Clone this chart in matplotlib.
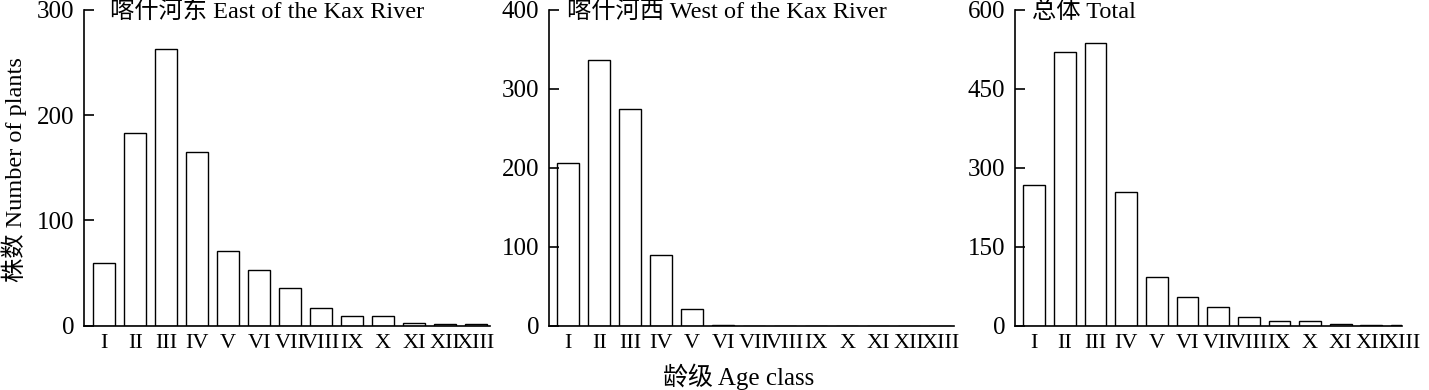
import matplotlib
matplotlib.use('Agg')
import matplotlib.pyplot as plt

plt.rcParams['font.family'] = ['Liberation Serif', 'Noto Sans CJK SC']

age_classes = ['I', 'II', 'III', 'IV', 'V', 'VI', 'VII', 'VIII', 'IX', 'X', 'XI', 'XII', 'XIII']
east = [60, 183, 263, 165, 71, 53, 36, 17, 9, 9, 3, 2, 2]
west = [206, 337, 275, 90, 21, 1, 0, 0, 0, 0, 0, 0, 0]
total = [267, 520, 538, 255, 92, 54, 36, 17, 9, 9, 3, 2, 1]

titles = ['喀什河东 East of the Kax River', '喀什河西 West of the Kax River', '总体 Total']
yticks_list = [[0, 100, 200, 300], [0, 100, 200, 300, 400], [0, 150, 300, 450, 600]]
series = [east, west, total]

W, H = 1429, 390
fig = plt.figure(figsize=(W / 100, H / 100), dpi=100)

# pixel boxes for each panel: left, right, xlim
boxes = [(84, 490, (-0.65, 12.45)), (549, 954, (-0.62, 12.44)), (1015, 1402, (-0.63, 11.85))]
top_px, bot_px = 10, 325.7

for i, (x0, x1, xl) in enumerate(boxes):
    ax = fig.add_axes([x0 / W, 1 - bot_px / H, (x1 - x0) / W, (bot_px - top_px) / H])
    ax.bar(range(len(age_classes)), series[i], width=0.71, color='white',
           edgecolor='black', linewidth=1.0)
    ax.set_xlim(*xl)
    ax.set_ylim(0, yticks_list[i][-1])
    ax.set_yticks(yticks_list[i])
    ax.set_xticks(range(len(age_classes)))
    ax.set_xticklabels(age_classes)
    ax.spines['top'].set_visible(False)
    ax.spines['right'].set_visible(False)
    ax.spines['left'].set_linewidth(1.2)
    ax.spines['bottom'].set_linewidth(1.2)
    ax.tick_params(axis='y', direction='in', length=7, width=1.2, labelsize=18, pad=7)
    ax.tick_params(axis='x', length=0, labelsize=16, pad=6)
    ax.text(0.065 if i == 0 else 0.045, 0.995, titles[i], transform=ax.transAxes,
            fontsize=17.5, va='center', ha='left')

fig.text(14 / W, 1 - 170 / H, '株数 Number of plants', rotation=90,
         fontsize=17.5, va='center', ha='center')
fig.text(739 / W, 1 - 377 / H, '龄级 Age class', fontsize=18, va='center', ha='center')

fig.savefig('out.png', dpi=100)
